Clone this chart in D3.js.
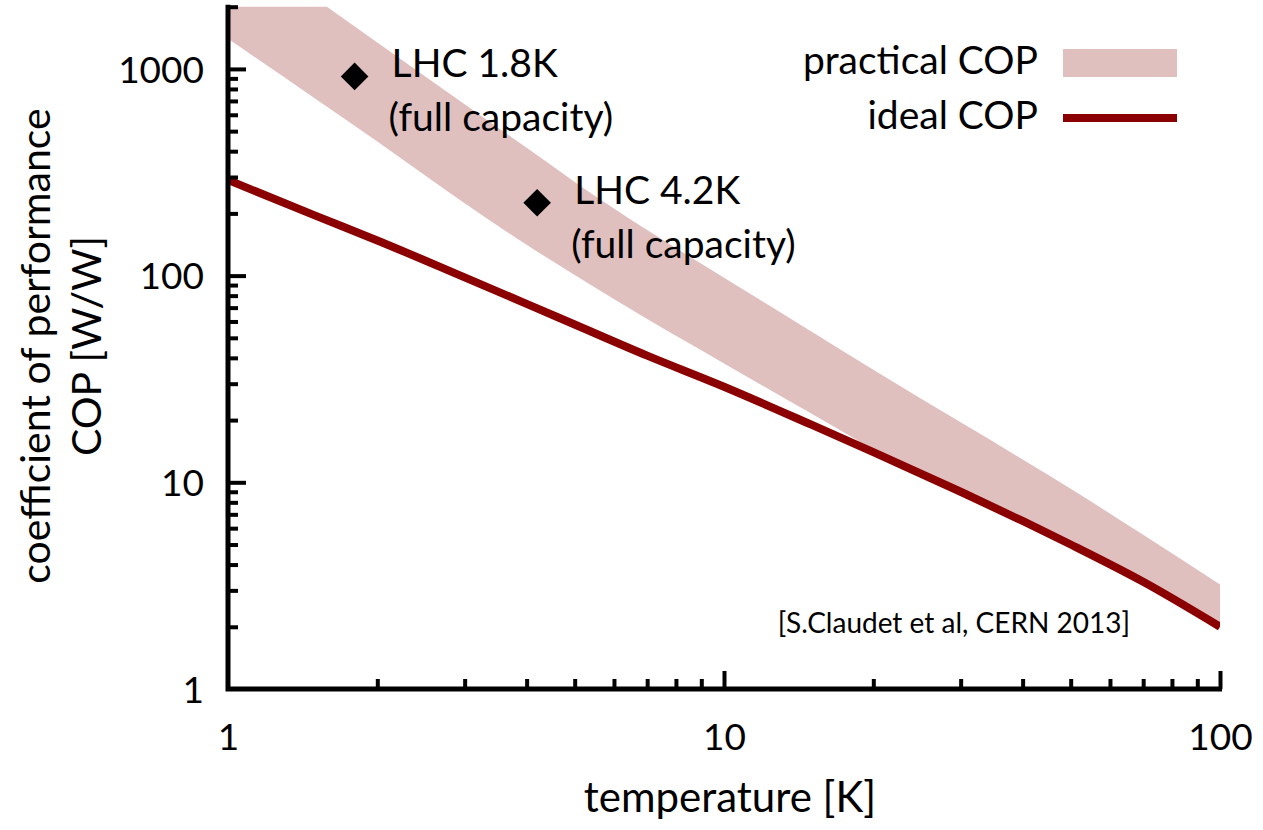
<!DOCTYPE html>
<html>
<head>
<meta charset="utf-8">
<script src="https://cdn.jsdelivr.net/npm/d3@7"></script>
<style>
  html, body { margin: 0; padding: 0; background: #fff; }
  svg { display: block; }
  text { font-family: Lato, "Noto Sans", sans-serif; fill: #000; }
</style>
</head>
<body>
<svg id="chart" width="1263" height="830"></svg>
<script>
// ---------- data ----------
const temperatures = [1, 1.5, 2, 3, 4, 5, 7, 10, 15, 20, 30, 40, 50, 70, 100];
const practicalUpper = [4365, 2190, 1343, 675, 415, 284, 166, 97.7, 53.7, 35, 19.5, 12.9, 9.3, 5.57, 3.2];
const practicalLower = [1400, 718, 446, 224, 141, 100.7, 61.6, 37.6, 21.5, 14.5, 9.2, 6.6, 5.1, 3.4, 2.05];
const idealCOP = [290, 195, 148, 98, 73, 58, 41, 29, 19, 14, 9, 6.5, 5, 3.3, 2];

const lhcPoints = [
  { name: "LHC 1.8K", note: "(full capacity)", t: 1.8, cop: 920 },
  { name: "LHC 4.2K", note: "(full capacity)", t: 4.2, cop: 225 }
];

const xMajorTicks = [1, 10, 100];
const xMinorTicks = [2, 3, 4, 5, 6, 7, 8, 9, 20, 30, 40, 50, 60, 70, 80, 90];
const yMajorTicks = [1, 10, 100, 1000];
const yMinorTicks = [2, 3, 4, 5, 6, 7, 8, 9, 20, 30, 40, 50, 60, 70, 80, 90,
                     200, 300, 400, 500, 600, 700, 800, 900, 2000];

const legendItems = ["practical COP", "ideal COP"];
const xTitle = "temperature [K]";
const yTitle = ["coefficient of performance", "COP [W/W]"];
const citation = "[S.Claudet et al, CERN 2013]";

// ---------- layout ----------
const svg = d3.select("#chart");
const plotLeft = 228, plotRight = 1220, plotBottom = 689;
const x = d3.scaleLog().domain([1, 100]).range([plotLeft, plotRight]);
const y = d3.scaleLog().domain([1, 2000]).range([plotBottom, 6.7]);
const plotTop = y(2000);

const bandColor = "#e0bfbf";
const lineColor = "#8b0000";

svg.append("defs").append("clipPath").attr("id", "plotClip")
  .append("rect").attr("x", plotLeft).attr("y", plotTop)
  .attr("width", plotRight - plotLeft).attr("height", plotBottom - plotTop);

const bandData = temperatures.map((t, i) => ({ t, hi: practicalUpper[i], lo: practicalLower[i], ideal: idealCOP[i] }));

const plot = svg.append("g").attr("clip-path", "url(#plotClip)");

plot.append("path")
  .datum(bandData)
  .attr("fill", bandColor)
  .attr("d", d3.area()
    .x(d => x(d.t))
    .y0(d => y(d.lo))
    .y1(d => y(d.hi))
    .curve(d3.curveMonotoneX));

plot.append("path")
  .datum(bandData)
  .attr("fill", "none")
  .attr("stroke", lineColor)
  .attr("stroke-width", 8)
  .attr("d", d3.line()
    .x(d => x(d.t))
    .y(d => y(d.ideal))
    .curve(d3.curveMonotoneX));

// ---------- axes ----------
const axisFont = 37;

function styleAxis(g) {
  g.select(".domain").remove();
  g.selectAll(".tick line").attr("stroke", "#000");
  g.selectAll(".tick text").attr("font-family", "Lato, sans-serif").attr("fill", "#000");
}

// y axis major
svg.append("g")
  .attr("transform", `translate(${plotLeft},0)`)
  .call(d3.axisLeft(y).tickValues(yMajorTicks).tickSize(-18).tickPadding(24)
    .tickFormat(d3.format("d")))
  .call(styleAxis)
  .call(g => g.selectAll(".tick line").attr("stroke-width", 4))
  .call(g => g.selectAll(".tick text").attr("font-size", axisFont).attr("dy", "0.36em"))
  .call(g => g.selectAll(".tick").filter(d => d === 1).select("line").remove());

// y axis minor
svg.append("g")
  .attr("transform", `translate(${plotLeft},0)`)
  .call(d3.axisLeft(y).tickValues(yMinorTicks).tickSize(-10).tickFormat(""))
  .call(styleAxis)
  .call(g => g.selectAll(".tick line").attr("stroke-width", 4));

// x axis major
svg.append("g")
  .attr("transform", `translate(0,${plotBottom})`)
  .call(d3.axisBottom(x).tickValues(xMajorTicks).tickSize(-18).tickPadding(42)
    .tickFormat(d3.format("d")))
  .call(styleAxis)
  .call(g => g.selectAll(".tick line").attr("stroke-width", 4))
  .call(g => g.selectAll(".tick text").attr("font-size", axisFont).attr("dy", "0.5em"))
  .call(g => g.selectAll(".tick").filter(d => d === 1).select("line").remove());

// x axis minor
svg.append("g")
  .attr("transform", `translate(0,${plotBottom})`)
  .call(d3.axisBottom(x).tickValues(xMinorTicks).tickSize(-10).tickFormat(""))
  .call(styleAxis)
  .call(g => g.selectAll(".tick line").attr("stroke-width", 4));

// axis lines
svg.append("path")
  .attr("d", d3.line()([[plotLeft, plotTop - 2], [plotLeft, plotBottom], [plotRight + 2, plotBottom]]))
  .attr("fill", "none")
  .attr("stroke", "#000")
  .attr("stroke-width", 5)
  .attr("stroke-linejoin", "miter");

// ---------- LHC points ----------
const annFont = 39;
const pts = svg.append("g");
pts.selectAll("path")
  .data(lhcPoints)
  .join("path")
  .attr("transform", d => `translate(${x(d.t)},${y(d.cop)}) rotate(45)`)
  .attr("d", d3.symbol(d3.symbolSquare, 380))
  .attr("fill", "#000");

pts.selectAll("text.name")
  .data(lhcPoints)
  .join("text")
  .attr("class", "name")
  .attr("x", d => x(d.t) + 37)
  .attr("y", d => y(d.cop) + 1)
  .attr("font-size", annFont)
  .text(d => d.name);

pts.selectAll("text.note")
  .data(lhcPoints)
  .join("text")
  .attr("class", "note")
  .attr("x", d => x(d.t) + 34)
  .attr("y", d => y(d.cop) + 55)
  .attr("font-size", annFont)
  .text(d => d.note);

// ---------- legend ----------
const legFont = 39;
const legend = svg.append("g");
legend.append("text").attr("x", 1038).attr("y", 74).attr("text-anchor", "end")
  .attr("font-size", legFont).text(legendItems[0]);
legend.append("rect").attr("x", 1063).attr("y", 49).attr("width", 114).attr("height", 28)
  .attr("fill", bandColor);
legend.append("text").attr("x", 1038).attr("y", 129).attr("text-anchor", "end")
  .attr("font-size", legFont).text(legendItems[1]);
legend.append("line").attr("x1", 1063).attr("x2", 1177).attr("y1", 118).attr("y2", 118)
  .attr("stroke", lineColor).attr("stroke-width", 8);

// ---------- titles ----------
svg.append("text")
  .attr("x", 730).attr("y", 812)
  .attr("text-anchor", "middle").attr("font-size", 42)
  .text(xTitle);

const yt = svg.append("g").attr("transform", "translate(0,346) rotate(-90)");
yt.append("text").attr("x", 0).attr("y", 50).attr("text-anchor", "middle")
  .attr("font-size", 41).text(yTitle[0]);
yt.append("text").attr("x", 0).attr("y", 101).attr("text-anchor", "middle")
  .attr("font-size", 41).text(yTitle[1]);

svg.append("text")
  .attr("x", 1130).attr("y", 633).attr("text-anchor", "end")
  .attr("font-size", 28).text(citation);
</script>
</body>
</html>
